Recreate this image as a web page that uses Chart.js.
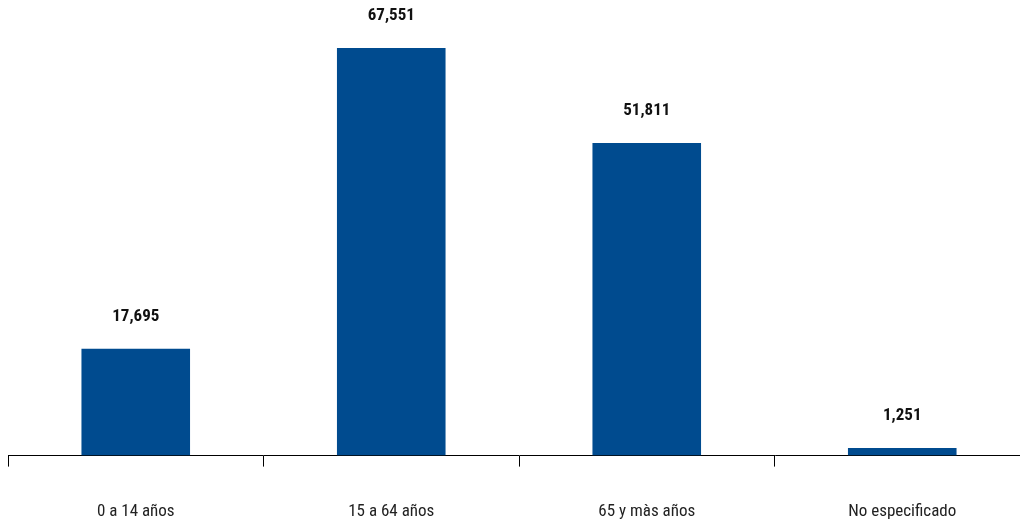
<!DOCTYPE html>
<html>
<head>
<meta charset="utf-8">
<script src="https://cdn.jsdelivr.net/npm/chart.js"></script>
<style>
  html, body { margin: 0; padding: 0; background: #fff; overflow: hidden; }
</style>
</head>
<body>
<canvas id="grupos" width="1030" height="524"></canvas>
<script>
const categorias = ["0 a 14 años", "15 a 64 años", "65 y màs años", "No especificado"];
const poblacion = [17695, 67551, 51811, 1251];

const fuente = "'Liberation Sans Narrow', 'Roboto Condensed', 'Arial Narrow', Roboto, sans-serif";

// etiquetas de valor encima de cada barra
const etiquetasValor = {
    id: "etiquetasValor",
    afterDatasetsDraw(chart) {
        const ctx = chart.ctx;
        const meta = chart.getDatasetMeta(0);
        ctx.save();
        ctx.font = "bold 17px " + fuente;
        ctx.fillStyle = "#111";
        ctx.textAlign = "center";
        ctx.textBaseline = "middle";
        meta.data.forEach((bar, i) => {
            ctx.fillText(poblacion[i].toLocaleString("en-US"), bar.x, bar.y - 32);
        });
        ctx.restore();
    }
};

new Chart(document.getElementById("grupos"), {
    type: "bar",
    data: {
        labels: categorias,
        datasets: [{
            data: poblacion,
            backgroundColor: "#004b8f",
            barPercentage: 0.85,
            categoryPercentage: 0.5
        }]
    },
    options: {
        responsive: false,
        animation: false,
        layout: { padding: { left: 8, right: 0, top: 0, bottom: 2 } },
        plugins: { legend: { display: false }, tooltip: { enabled: false } },
        scales: {
            x: {
                grid: { drawOnChartArea: false, color: "#000", tickLength: 11, offset: true },
                border: { color: "#000", width: 1 },
                ticks: { color: "#222", font: { family: fuente, size: 17 }, padding: 35, maxRotation: 0 },
                // el padding se reserva dos veces; recortar lo sobrante
                afterFit(scale) { scale.height -= 35; }
            },
            y: {
                display: false,
                min: 0,
                max: 75500
            }
        }
    },
    plugins: [etiquetasValor]
});
</script>
</body>
</html>
